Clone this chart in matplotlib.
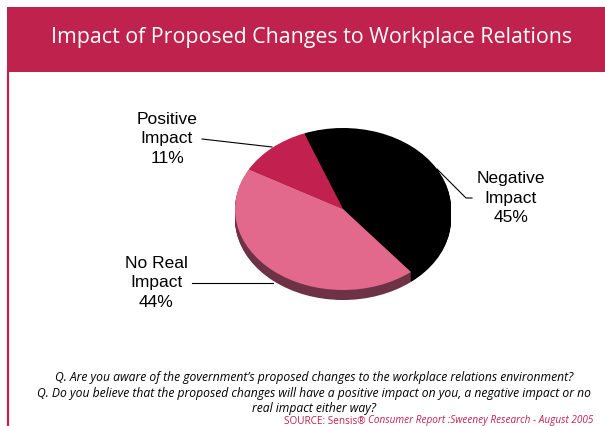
import matplotlib.pyplot as plt
from matplotlib.patches import Rectangle
import numpy as np

# survey results
labels = ["Negative\nImpact\n45%", "No Real\nImpact\n44%", "Positive\nImpact\n11%"]
shares = [45, 44, 11]
top_colors = ["#000000", "#E2688C", "#C2214F"]
side_colors = ["#000000", "#6E3246", "#6A1F33"]

title = "Impact of Proposed Changes to Workplace Relations"
questions = ("Q. Are you aware of the government\u2019s proposed changes to the workplace relations environment?\n"
             "Q. Do you believe that the proposed changes will have a positive impact on you, a negative impact or no\n"
             "real impact either way?")
brand = "#C0224E"

W, H = 605, 426
fig = plt.figure(figsize=(W / 100, H / 100), dpi=100)

# page furniture in pixel coordinates
bg = fig.add_axes([0, 0, 1, 1])
bg.set_xlim(0, W)
bg.set_ylim(H, 0)
bg.axis("off")
bg.add_patch(Rectangle((7, 7), W - 7, 65, color=brand, lw=0))
bg.plot([8, 8], [72, H], color=brand, lw=1.6)
bg.text(312, 37, title, color="white", fontsize=15.4, ha="center", va="center",
        family="Open Sans")

# pie: ellipse of 108 x 81 px centred at (343, 209)
cx, cy, rx, ry = 343, 209, 108, 81
x0, x1, y0, y1 = -1.1, 1.1, -1.3, 1.1
pw, ph = (x1 - x0) * rx, (y1 - y0) * ry
ax = fig.add_axes([(cx + x0 * rx) / W, (H - cy - (-y0) * ry) / H, pw / W, ph / H])
ax.patch.set_alpha(0)

# stacked copies give the pie its thickness
depth = 10 / ry
steps = 14
for k in range(steps):
    off = -depth * (1 - k / steps)
    ax.pie(shares, colors=side_colors, startangle=111, counterclock=False,
           center=(0, off), radius=1, wedgeprops=dict(lw=0))
ax.pie(shares, colors=top_colors, startangle=111, counterclock=False,
       radius=1, wedgeprops=dict(lw=0))
ax.set_aspect("auto")
ax.set_xlim(x0, x1)
ax.set_ylim(y0, y1)
ax.axis("off")

# labels and leader lines
lab_font = dict(fontsize=12.5, ha="center", va="center", linespacing=1.35,
                family="Liberation Sans")
bg.text(511, 198, labels[0], **lab_font)
bg.plot([472, 466, 437], [198, 198, 169], color="black", lw=0.8)
bg.text(156, 283, labels[1], **lab_font)
bg.plot([192, 273], [283, 283], color="black", lw=0.8)
bg.text(167, 139, labels[2], **lab_font)
bg.plot([202, 272], [139, 147], color="black", lw=0.8)

# question text and source line
bg.text(314, 393, questions, fontsize=8.75, style="italic", ha="center", va="center",
        linespacing=1.22, family="Open Sans")
src = bg.text(284, 421, "SOURCE: Sensis\u00ae ", fontsize=7.2, color=brand, va="center",
              family="Open Sans")
fig.canvas.draw()
bb = src.get_window_extent()
bg.text(284 + bb.width, 421, "Consumer Report :Sweeney Research - August 2005", fontsize=7.2,
        color=brand, style="italic", va="center", family="Open Sans")

fig.savefig("out.png", dpi=100)
